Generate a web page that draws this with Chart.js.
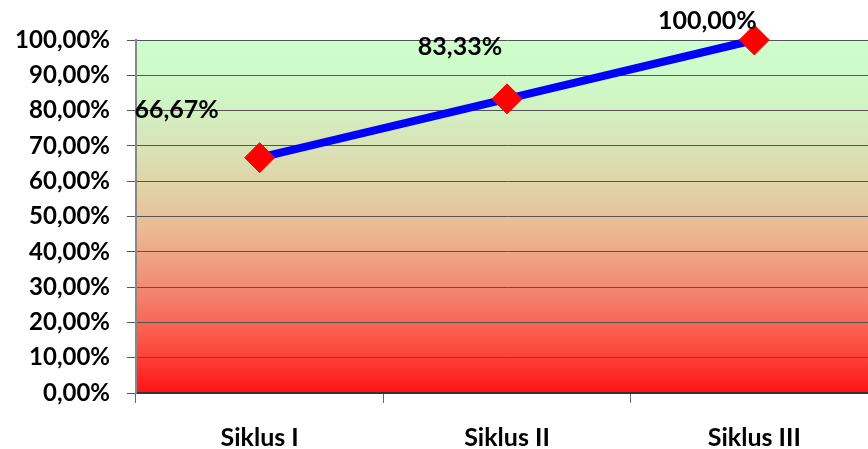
<!DOCTYPE html>
<html>
<head>
<meta charset="utf-8">
<script src="https://cdn.jsdelivr.net/npm/chart.js@4/dist/chart.umd.min.js"></script>
<style>
  html, body { margin: 0; padding: 0; overflow: hidden; background: #fff; }
  canvas { display: block; }
</style>
</head>
<body>
<canvas id="c" width="894" height="449"></canvas>
<script>
// Cycle names and achievement percentages
const categories = ['Siklus I', 'Siklus II', 'Siklus III'];
const achievement = [66.67, 83.33, 100];
const yTicks = [0, 10, 20, 30, 40, 50, 60, 70, 80, 90, 100];

const FONT = 'Lato, "Open Sans", sans-serif';
const pct = v => v.toFixed(2).replace('.', ',') + '%';

// Green-to-red vertical fill behind the plot
const gradientBackground = {
  id: 'gradientBackground',
  beforeDraw(chart) {
    const { ctx, chartArea: a } = chart;
    const g = ctx.createLinearGradient(0, a.top, 0, a.bottom);
    g.addColorStop(0.00, '#ccffcc');
    g.addColorStop(0.15, '#cff7c6');
    g.addColorStop(0.30, '#d9e3b7');
    g.addColorStop(0.45, '#e4cda2');
    g.addColorStop(0.55, '#ebb690');
    g.addColorStop(0.70, '#f28a74');
    g.addColorStop(0.85, '#fb5549');
    g.addColorStop(1.00, '#ff1414');
    ctx.save();
    ctx.fillStyle = g;
    ctx.fillRect(a.left, a.top, a.right - a.left, a.bottom - a.top);
    ctx.restore();
  }
};

// Value labels placed up and to the left of each marker
const valueLabels = {
  id: 'valueLabels',
  afterDatasetsDraw(chart, args, opts) {
    const { ctx } = chart;
    const meta = chart.getDatasetMeta(0);
    ctx.save();
    ctx.font = 'bold 25px ' + FONT;
    ctx.fillStyle = '#000';
    ctx.textAlign = 'center';
    ctx.textBaseline = 'middle';
    meta.data.forEach((pt, i) => {
      const o = opts.offsets[i];
      ctx.fillText(pct(achievement[i]), pt.x + o.dx, pt.y + o.dy);
    });
    ctx.restore();
  }
};

new Chart(document.getElementById('c'), {
  type: 'line',
  data: {
    labels: categories,
    datasets: [{
      data: achievement,
      borderColor: '#0000ff',
      borderWidth: 8,
      pointStyle: 'rectRot',
      pointRadius: 15,
      pointHoverRadius: 15,
      pointBackgroundColor: '#ff0000',
      pointBorderColor: '#ff0000',
      pointBorderWidth: 1,
      tension: 0,
      clip: false
    }]
  },
  options: {
    responsive: false,
    animation: false,
    events: [],
    layout: { padding: { top: 40, right: 0, bottom: 0, left: 0 } },
    plugins: {
      legend: { display: false },
      tooltip: { enabled: false },
      valueLabels: {
        offsets: [
          { dx: -83, dy: -48 },
          { dx: -47, dy: -52 },
          { dx: -47, dy: -19 }
        ]
      }
    },
    scales: {
      x: {
        offset: true,
        grid: {
          offset: true,
          drawOnChartArea: false,
          drawTicks: true,
          tickLength: 10,
          color: '#666',
          lineWidth: 1
        },
        border: { color: '#333', width: 2 },
        ticks: {
          color: '#000',
          padding: 20,
          font: { family: FONT, size: 25, weight: 'bold' },
          maxRotation: 0
        },
        afterFit(scale) { scale.height = 56; }
      },
      y: {
        min: 0,
        max: 100,
        afterBuildTicks(scale) { scale.ticks = yTicks.map(v => ({ value: v })); },
        grid: {
          color: '#555',
          lineWidth: 1,
          tickLength: 9,
          drawTicks: true
        },
        border: { color: '#888', width: 2 },
        ticks: {
          color: '#000',
          padding: 17,
          font: { family: FONT, size: 24, weight: 'bold' },
          callback: v => pct(v)
        },
        afterFit(scale) { scale.width = 136; }
      }
    }
  },
  plugins: [gradientBackground, valueLabels]
});
</script>
</body>
</html>
